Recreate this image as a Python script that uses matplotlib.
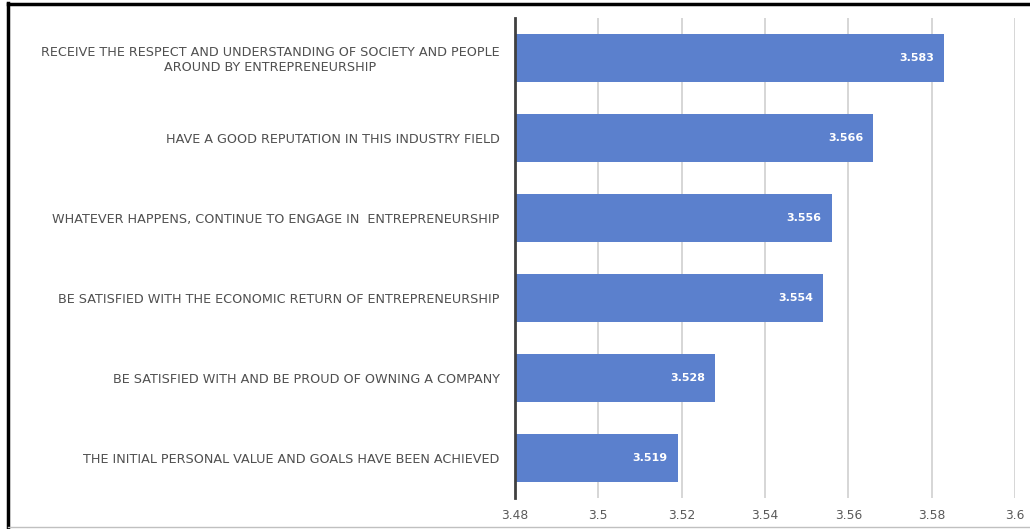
import matplotlib.pyplot as plt
from matplotlib.lines import Line2D

categories = [
    'RECEIVE THE RESPECT AND UNDERSTANDING OF SOCIETY AND PEOPLE\nAROUND BY ENTREPRENEURSHIP',
    'HAVE A GOOD REPUTATION IN THIS INDUSTRY FIELD',
    'WHATEVER HAPPENS, CONTINUE TO ENGAGE IN  ENTREPRENEURSHIP',
    'BE SATISFIED WITH THE ECONOMIC RETURN OF ENTREPRENEURSHIP',
    'BE SATISFIED WITH AND BE PROUD OF OWNING A COMPANY',
    'THE INITIAL PERSONAL VALUE AND GOALS HAVE BEEN ACHIEVED',
]
values = [3.583, 3.566, 3.556, 3.554, 3.528, 3.519]
xticks = [3.48, 3.5, 3.52, 3.54, 3.56, 3.58, 3.6]
xtick_labels = ['3.48', '3.5', '3.52', '3.54', '3.56', '3.58', '3.6']

W, H = 1030, 529
fig = plt.figure(figsize=(W / 100, H / 100), dpi=100)
ax = fig.add_axes([515 / W, 31 / H, 500 / W, 480 / H])

ypos = list(range(len(categories)))
ax.barh(ypos, [v - 3.48 for v in values], left=3.48, height=0.59,
        color='#5b80cd', zorder=3)
for y, v in zip(ypos, values):
    ax.text(v - 0.0024, y, f'{v:.3f}', ha='right', va='center',
            color='white', fontsize=8, fontweight='bold', zorder=4)

ax.set_xlim(3.48, 3.6)
ax.set_ylim(len(categories) - 0.5, -0.5)
ax.set_xticks(xticks)
ax.set_xticklabels(xtick_labels, fontsize=8.8, color='#595959')
ax.set_yticks(ypos)
ax.set_yticklabels(categories, fontsize=9.2, color='#505050', ha='right',
                   multialignment='center', linespacing=1.15)
ax.tick_params(axis='y', length=0, pad=11)
ax.tick_params(axis='x', length=0, pad=8)
ax.grid(axis='x', color='#d0d0d0', linewidth=1.2, zorder=0)
for s in ['top', 'right', 'bottom']:
    ax.spines[s].set_visible(False)
ax.spines['left'].set_color('#404040')
ax.spines['left'].set_linewidth(2)
ax.spines['left'].set_zorder(5)

# frame around the picture
fig.add_artist(Line2D([8 / W, 8 / W], [0, 1 - 3 / H], color='black',
                      linewidth=2.5, transform=fig.transFigure))
fig.add_artist(Line2D([8 / W, 1], [1 - 4 / H, 1 - 4 / H], color='black',
                      linewidth=2.5, transform=fig.transFigure))
fig.add_artist(Line2D([8 / W, 1], [2 / H, 2 / H], color='#c0c0c0',
                      linewidth=1, transform=fig.transFigure))

fig.savefig('out.png', dpi=100)
